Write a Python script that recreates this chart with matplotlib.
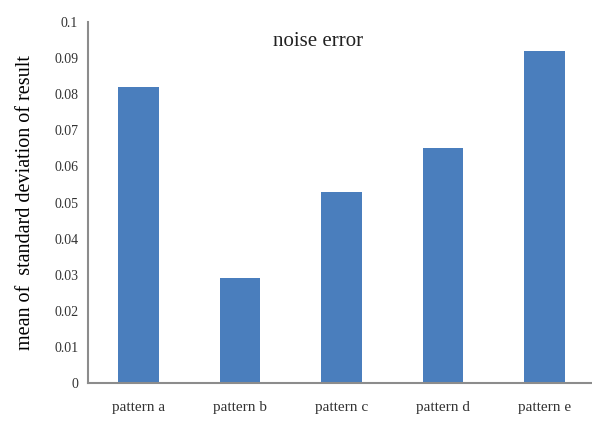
import matplotlib
matplotlib.use('Agg')
import matplotlib.pyplot as plt

# --- Dati ---
patterns = ['pattern a', 'pattern b', 'pattern c', 'pattern d', 'pattern e']
noise_err = [0.082, 0.029, 0.053, 0.065, 0.092]
y_ticks = [0, 0.01, 0.02, 0.03, 0.04, 0.05, 0.06, 0.07, 0.08, 0.09, 0.1]
y_tick_labels = ['0', '0.01', '0.02', '0.03', '0.04', '0.05', '0.06', '0.07', '0.08', '0.09', '0.1']

plt.rcParams['font.family'] = ['Liberation Serif', 'DejaVu Serif']

fig = plt.figure(figsize=(5.92, 4.26), dpi=100)
ax = fig.add_axes([0.1486, 0.101, 0.8514, 0.847])

x = range(len(patterns))
ax.bar(x, noise_err, width=0.4, color='#4A7EBD')

ax.set_xlim(-0.5, 4.47)
ax.set_ylim(0, 0.1)
ax.set_xticks(list(x))
ax.set_xticklabels(patterns, fontsize=11)
ax.set_yticks(y_ticks)
ax.set_yticklabels(y_tick_labels, fontsize=10)
ax.tick_params(axis='y', length=0, pad=7, colors='#333333')
ax.tick_params(axis='x', length=0, pad=13, colors='#333333')

for s in ['top', 'right']:
    ax.spines[s].set_visible(False)
for s in ['left', 'bottom']:
    ax.spines[s].set_color('#8c8c8c')
    ax.spines[s].set_linewidth(1.5)

ax.set_ylabel('mean of  standard deviation of result', fontsize=14.5, labelpad=14)
ax.text(0.456, 0.945, 'noise error', transform=ax.transAxes,
        ha='center', va='center', fontsize=15, color='#222222')

fig.savefig('out.png', dpi=100)
